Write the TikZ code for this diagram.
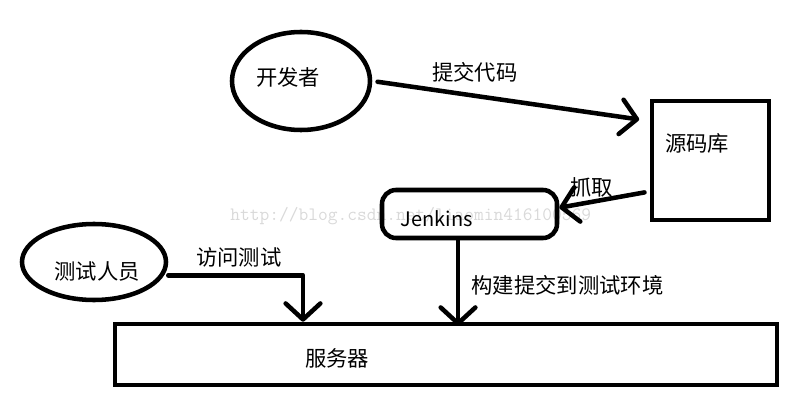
\documentclass[tikz,border=0pt]{standalone}
\usepackage{fontspec}
\setmainfont{Noto Sans CJK SC}
\usetikzlibrary{arrows.meta,shapes.geometric}

\tikzset{
  thickline/.style={line width=3.4pt},
  oval/.style={ellipse,draw,thickline,inner sep=0pt},
  box/.style={rectangle,draw,thickline,inner sep=0pt},
  barb/.style={thickline,line cap=round,line join=round,-{Straight Barb[length=12pt,width=26pt,round]}},
  txt/.style={font=\fontsize{16pt}{19pt}\selectfont,inner sep=0pt},
}

\begin{document}
\begin{tikzpicture}[x=0.75pt,y=-0.75pt]

% One unit is one pixel of the picture, y runs down
\useasboundingbox (0,0) rectangle (807,403);

% Watermark (draw first so it sits below the lines)
\node[anchor=base west,inner sep=0pt,text=gray!30,font=\fontsize{14.2pt}{16pt}\ttfamily] (mark) at (230,220) {http://blog.csdn.net/liaomin416100569};

% Developer and tester ellipses
\node[oval,minimum width=103.5pt,minimum height=73.5pt] (dev) at (301,81) {};
\node[oval,minimum width=108pt,minimum height=57pt] (tester) at (94,262) {};

% Repository, Jenkins and server boxes
\node[box,minimum width=87.75pt,minimum height=89.25pt] (repo) at (710.5,160.5) {};
\node[box,rounded corners=10.5pt,minimum width=131.25pt,minimum height=36pt] (jen) at (469.5,214) {};
\node[box,minimum width=496.5pt,minimum height=45.75pt] (srv) at (446,354.5) {};

% Texts inside the shapes
\node[txt] (devname) at (288,77) {开发者};
\node[txt] (testername) at (97,271) {测试人员};
\node[txt] (reponame) at (697,143) {源码库};
\node[txt,font=\fontsize{15pt}{18pt}\selectfont] (jenname) at (437,219) {Jenkins};
\node[txt] (srvname) at (337,358) {服务器};

% Commit code
\draw[barb,shorten <=4pt,shorten >=8pt] (dev.east) -- node[txt,pos=0.37,yshift=17.9pt] (commit) {提交代码} (repo.147);

% Fetch
\draw[barb,shorten <=4pt] (repo.207) -- node[txt,pos=0.64,yshift=11pt] (fetch) {抓取} (jen.4);

% Build and deploy to test environment
\coordinate (buildtop) at ([xshift=-8.6pt]jen.south);
\draw[barb,shorten >=-3pt] (buildtop) -- node[txt,pos=0.55,right=8.5pt] (build) {构建提交到测试环境} (buildtop |- srv.north);

% Tester visits the test
\coordinate (testfoot) at ([xshift=142.7pt]srv.north west);
\draw[barb] ([yshift=-10pt]tester.east) -| node[txt,pos=0.262,yshift=13.7pt] (visit) {访问测试} (testfoot);

\end{tikzpicture}
\end{document}
